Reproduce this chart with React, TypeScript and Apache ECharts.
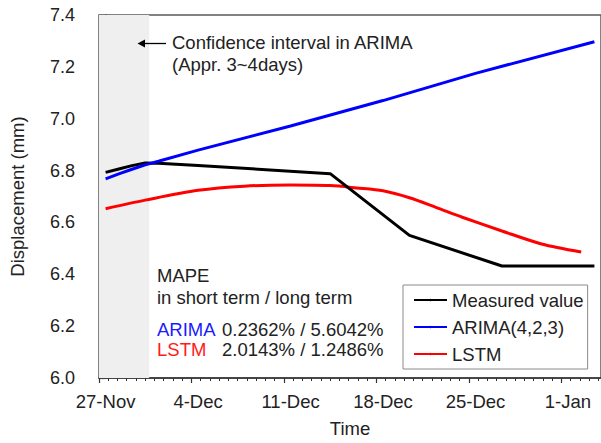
import React, { useEffect, useRef } from "react";
import * as echarts from "echarts";

// Day offsets counted from 27-Nov (0 = 27-Nov)
const measuredDays = [0, 1, 2, 3, 4, 7, 17, 23, 30, 37];
const measuredValues = [6.793, 6.806, 6.819, 6.829, 6.828, 6.82, 6.788, 6.55, 6.432, 6.432];

const arimaDays = [0, 1, 2, 3, 4, 7, 14, 21, 28, 37];
const arimaValues = [6.768, 6.787, 6.805, 6.822, 6.836, 6.879, 6.972, 7.07, 7.175, 7.297];

const lstmDays = [0, 3, 7, 10.5, 14, 17, 19, 21, 23, 25, 27, 30, 33, 36];
const lstmValues = [6.653, 6.686, 6.724, 6.74, 6.744, 6.742, 6.733, 6.722, 6.695, 6.658, 6.62, 6.567, 6.517, 6.486];

const tickDays = [0, 7, 14, 21, 28, 35];
const tickLabels = ["27-Nov", "4-Dec", "11-Dec", "18-Dec", "25-Dec", "1-Jan"];

// Shaded confidence window (days)
const confidenceWindow = [-0.5, 3.3];

const FONT = "'Liberation Sans', Arial, sans-serif";
const TEXT = "#222222";

const pairs = (xs: number[], ys: number[]) => xs.map((x, i) => [x, ys[i]]);

export default function App() {
  const ref = useRef<HTMLDivElement>(null);

  useEffect(() => {
    if (!ref.current) return;
    const chart = echarts.init(ref.current, null, { renderer: "svg" });

    const xMin = -0.5;
    const xMax = 37.5;
    // Major ticks sit between day slots, labels at the day itself
    const majorTicks = tickDays.map((d) => d - 0.5);
    const minorTicks: number[] = [];
    for (let k = 0; k <= 54; k++) {
      const v = xMin + k * 0.7;
      if (v > xMax + 1e-6) break;
      if (k % 10 !== 0) minorTicks.push(+v.toFixed(3));
    }

    const txt = (text: string, left: number, top: number, fill = TEXT) => ({
      type: "text",
      left,
      top,
      z: 10,
      style: { text, fontSize: 18.5, fill, fontFamily: FONT },
    });

    chart.setOption({
      animation: false,
      textStyle: { fontFamily: FONT },
      grid: {
        left: 97,
        top: 15,
        right: -2,
        bottom: 64,
        show: true,
        borderColor: "#5a5a5a",
        borderWidth: 1.5,
        backgroundColor: "transparent",
      },
      xAxis: [
        {
          type: "value",
          min: xMin,
          max: xMax,
          position: "bottom",
          name: "Time",
          nameLocation: "middle",
          nameGap: 41,
          nameTextStyle: { fontSize: 18.5, color: TEXT, fontFamily: FONT },
          axisLine: { show: true, lineStyle: { color: "#333", width: 1.5 } },
          axisTick: {
            show: true,
            customValues: majorTicks,
            length: 5,
            lineStyle: { color: "#333", width: 1.2 },
          },
          axisLabel: {
            customValues: tickDays,
            formatter: (v: number) => {
              const i = tickDays.indexOf(Math.round(v));
              return i >= 0 ? tickLabels[i] : "";
            },
            fontSize: 18.5,
            color: TEXT,
            margin: 14,
            fontFamily: FONT,
          },
          splitLine: { show: false },
        },
        {
          type: "value",
          min: xMin,
          max: xMax,
          position: "bottom",
          axisLine: { show: false },
          axisTick: {
            show: true,
            customValues: minorTicks,
            length: 3,
            lineStyle: { color: "#333", width: 1 },
          },
          axisLabel: { show: false },
          splitLine: { show: false },
        },
      ],
      yAxis: {
        type: "value",
        min: 6.0,
        max: 7.4,
        interval: 0.2,
        name: "Displacement (mm)",
        nameLocation: "middle",
        nameGap: 72,
        nameTextStyle: { fontSize: 18.5, color: TEXT, fontFamily: FONT },
        axisLine: { show: true, lineStyle: { color: "#404040", width: 1.5 } },
        axisTick: { show: true, length: 6, lineStyle: { color: "#404040", width: 1.2 } },
        minorTick: { show: true, splitNumber: 2, length: 5, lineStyle: { color: "#404040", width: 1.2 } },
        axisLabel: {
          formatter: (v: number) => v.toFixed(1),
          fontSize: 18,
          color: TEXT,
          margin: 24,
          fontFamily: FONT,
        },
        splitLine: { show: false },
        minorSplitLine: { show: false },
      },
      legend: {
        orient: "vertical",
        left: 403,
        top: 285,
        data: ["Measured value", "ARIMA(4,2,3)", "LSTM"],
        itemWidth: 33,
        itemHeight: 3,
        itemGap: 7,
        padding: [5, 4, 5, 10],
        borderColor: "#8a8a8a",
        borderWidth: 1,
        backgroundColor: "#fff",
        textStyle: { fontSize: 18.5, color: TEXT, lineHeight: 20, fontFamily: FONT },
      },
      series: [
        {
          name: "band",
          type: "line",
          data: [],
          z: 1,
          silent: true,
          markArea: {
            silent: true,
            itemStyle: { color: "#efefef" },
            data: [[{ xAxis: confidenceWindow[0] }, { xAxis: confidenceWindow[1] }]],
          },
        },
        {
          name: "LSTM",
          type: "line",
          data: pairs(lstmDays, lstmValues),
          smooth: 0.3,
          symbol: "none",
          lineStyle: { color: "#ff0000", width: 3 },
          itemStyle: { color: "#ff0000" },
        },
        {
          name: "Measured value",
          type: "line",
          data: pairs(measuredDays, measuredValues),
          symbol: "none",
          lineStyle: { color: "#000000", width: 3 },
          itemStyle: { color: "#000000" },
        },
        {
          name: "ARIMA(4,2,3)",
          type: "line",
          data: pairs(arimaDays, arimaValues),
          symbol: "none",
          lineStyle: { color: "#0000ff", width: 3 },
          itemStyle: { color: "#0000ff" },
        },
      ],
      graphic: [
        // arrow pointing at the shaded window
        { type: "line", z: 10, shape: { x1: 143, y1: 43.5, x2: 166, y2: 43.5 }, style: { stroke: "#000", lineWidth: 1.3 } },
        { type: "polygon", z: 10, shape: { points: [[137.5, 43.5], [145, 39.5], [145, 47.5]] }, style: { fill: "#000" } },
        txt("Confidence interval in ARIMA", 172, 33),
        txt("(Appr. 3~4days)", 172, 55),
        txt("MAPE", 157, 266),
        txt("in short term / long term", 157, 288),
        txt("ARIMA", 157, 320, "#1a1aff"),
        txt("0.2362% / 5.6042%", 222, 320),
        txt("LSTM", 157, 340, "#ff1a1a"),
        txt("2.0143% / 1.2486%", 222, 340),
      ],
    });

    return () => chart.dispose();
  }, []);

  return (
    <div
      ref={ref}
      style={{ position: "fixed", left: 0, top: 0, width: 601, height: 443, background: "#fff" }}
    />
  );
}
